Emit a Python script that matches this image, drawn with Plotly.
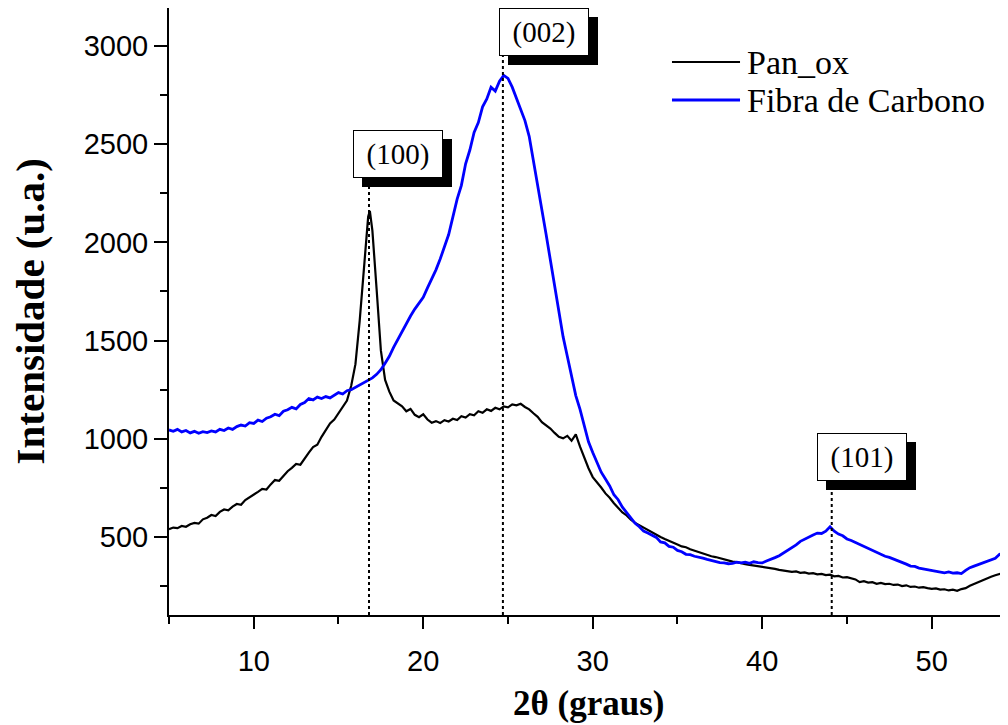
import plotly.graph_objects as go

# ---------------- data ----------------
theta = [5.0 + 0.25 * i for i in range(199)]  # 5.0 .. 54.5

pan_ox = [540, 548, 545, 556, 552, 565, 572, 568, 590, 598, 612, 607, 628, 640, 636, 655,
          668, 664, 688, 702, 712, 730, 745, 742, 768, 790, 786, 812, 835, 852, 872, 868,
          902, 930, 958, 970, 1010, 1042, 1078, 1098, 1132, 1160, 1195, 1270, 1380, 1600,
          1880, 2130, 2060, 1760, 1450, 1300, 1240, 1195, 1180, 1165, 1140, 1152, 1122, 1110,
          1125, 1098, 1082, 1090, 1080, 1095, 1088, 1102, 1095, 1115, 1108, 1125, 1120, 1140,
          1132, 1150, 1142, 1158, 1150, 1165, 1160, 1175, 1170, 1178, 1162, 1150, 1130, 1112,
          1085, 1068, 1052, 1030, 1010, 1002, 1015, 990, 1022, 960, 900, 850, 805, 780, 752,
          722, 700, 672, 650, 625, 610, 588, 572, 560, 545, 535, 522, 512, 500, 490, 482, 470,
          462, 452, 448, 438, 430, 425, 415, 410, 402, 398, 392, 386, 382, 375, 372, 366, 362,
          358, 355, 352, 348, 345, 340, 338, 333, 330, 328, 323, 325, 318, 320, 314, 316, 310,
          312, 306, 308, 300, 302, 294, 296, 288, 284, 270, 275, 268, 270, 262, 266, 260, 262,
          256, 258, 250, 254, 246, 248, 242, 245, 240, 236, 238, 232, 234, 228, 232, 226, 235,
          240, 252, 262, 272, 282, 290, 298, 305, 312, 318]

# fine point at the top of the sharp (100) reflection
theta_peak = [16.85]
pan_ox_peak = [2160]

fibra = [1045, 1038, 1048, 1035, 1042, 1030, 1038, 1028, 1036, 1032, 1040, 1035, 1048, 1042,
         1055, 1048, 1062, 1070, 1065, 1082, 1078, 1095, 1088, 1105, 1112, 1125, 1118, 1140,
         1148, 1160, 1152, 1175, 1185, 1205, 1198, 1212, 1205, 1215, 1208, 1222, 1235, 1228,
         1245, 1250, 1262, 1272, 1285, 1298, 1310, 1328, 1352, 1385, 1420, 1465, 1505, 1550,
         1590, 1625, 1660, 1690, 1720, 1768, 1812, 1860, 1915, 1975, 2040, 2130, 2220, 2290,
         2400, 2470, 2560, 2610, 2690, 2730, 2790, 2770, 2820, 2850, 2835, 2790, 2735, 2680,
         2620, 2540, 2420, 2300, 2170, 2040, 1910, 1780, 1640, 1520, 1420, 1320, 1220, 1150,
         1060, 985, 930, 875, 830, 795, 760, 715, 690, 652, 625, 598, 570, 552, 530, 520, 508,
         498, 475, 470, 452, 448, 432, 425, 412, 410, 402, 398, 392, 386, 380, 376, 370, 368,
         364, 366, 372, 368, 372, 366, 374, 370, 368, 378, 385, 395, 405, 418, 430, 445, 460,
         478, 490, 502, 510, 520, 518, 530, 552, 530, 515, 506, 490, 482, 472, 462, 452, 440,
         432, 420, 414, 402, 396, 388, 378, 370, 362, 352, 350, 342, 338, 334, 332, 326, 322,
         318, 322, 316, 318, 314, 330, 344, 352, 360, 370, 376, 384, 392, 412, 405, 410]

series_names = ["Pan_ox", "Fibra de Carbono"]
series_colors = ["#000000", "#0000ff"]

peak_labels = ["(100)", "(002)", "(101)"]
peak_theta = [16.8, 24.7, 44.1]

x_ticks = [10, 20, 30, 40, 50]
y_ticks = [500, 1000, 1500, 2000, 2500, 3000]

# merge the extra peak point into the Pan_ox series
pan_pts = sorted(list(zip(theta, pan_ox)) + list(zip(theta_peak, pan_ox_peak)))
pan_x = [p[0] for p in pan_pts]
pan_y = [p[1] for p in pan_pts]

# ---------------- figure ----------------
X_RANGE = [5, 54.5]
Y_RANGE = [103, 3193]
SERIF = "Liberation Serif"
SANS = "Liberation Sans"

fig = go.Figure()
fig.add_trace(go.Scatter(x=pan_x, y=pan_y, mode="lines", name=series_names[0],
                         line=dict(color=series_colors[0], width=2.2), showlegend=False))
fig.add_trace(go.Scatter(x=theta, y=fibra, mode="lines", name=series_names[1],
                         line=dict(color=series_colors[1], width=2.8), showlegend=False))

# dotted guide lines and labelled boxes
label_pos = [(18.5, 2450), (27.1, 3072), (45.9, 905)]
for lab, th, (lx, ly) in zip(peak_labels, peak_theta, label_pos):
    fig.add_shape(type="line", xref="x", yref="y", x0=th, x1=th, y0=Y_RANGE[0], y1=ly,
                  line=dict(color="black", width=2, dash="dot"), layer="above")
    # shadow
    fig.add_annotation(x=lx, y=ly, xref="x", yref="y", text=" ", showarrow=False,
                       width=86, height=44, bgcolor="black", bordercolor="black",
                       borderwidth=1, xshift=9, yshift=-9,
                       font=dict(family=SERIF, size=29, color="black"))
    # box
    fig.add_annotation(x=lx, y=ly, xref="x", yref="y", text=lab, showarrow=False,
                       width=86, height=44, bgcolor="white", bordercolor="black",
                       borderwidth=1,
                       font=dict(family=SERIF, size=29, color="black"))

# manual legend
leg_y = [0.911, 0.8484]
for name, col, yy, w in zip(series_names, series_colors, leg_y, [2.2, 2.8]):
    fig.add_shape(type="line", xref="paper", yref="paper", x0=0.5995, x1=0.6806,
                  y0=yy, y1=yy, line=dict(color=col, width=w))
    fig.add_annotation(x=0.6865, y=yy, xref="paper", yref="paper", text=name,
                       showarrow=False, xanchor="left", yanchor="middle",
                       font=dict(family=SERIF, size=34, color="black"))

# axis titles
fig.add_annotation(x=-0.1657, y=0.5, xref="paper", yref="paper", textangle=-90,
                   xanchor="center", yanchor="middle",
                   text="<b>Intensidade (u.a.)</b>", showarrow=False,
                   font=dict(family=SERIF, size=41, color="black"))
fig.add_annotation(x=0.5, y=-0.145, xref="paper", yref="paper",
                   xanchor="center", yanchor="middle",
                   text="<b>2θ (graus)</b>", showarrow=False,
                   font=dict(family=SERIF, size=35, color="black"))

fig.update_xaxes(range=X_RANGE, tickvals=x_ticks, ticks="outside", ticklen=12, tickwidth=2,
                 tickcolor="black", showline=True, linewidth=2, linecolor="black", mirror=True,
                 showgrid=False, zeroline=False, automargin=False,
                 tickfont=dict(family=SANS, size=29, color="black"),
                 ticklabelstandoff=7,
                 minor=dict(tick0=5, dtick=10, ticks="outside", ticklen=7, tickwidth=2,
                            tickcolor="black", showgrid=False))
fig.update_yaxes(range=Y_RANGE, tickvals=y_ticks, ticks="outside", ticklen=13, tickwidth=2,
                 tickcolor="black", showline=True, linewidth=2, linecolor="black", mirror=False,
                 showgrid=False, zeroline=False, automargin=False,
                 tickfont=dict(family=SANS, size=29, color="black"),
                 minor=dict(tick0=250, dtick=500, ticks="outside", ticklen=7, tickwidth=2,
                            tickcolor="black", showgrid=False))

# the page adds an 8 px body margin, so margins are reduced by 8 px on left/top
fig.update_layout(width=1008, height=725, margin=dict(l=161, r=8, t=0, b=118),
                  plot_bgcolor="white", paper_bgcolor="white", showlegend=False)

fig.write_html("out.html")
